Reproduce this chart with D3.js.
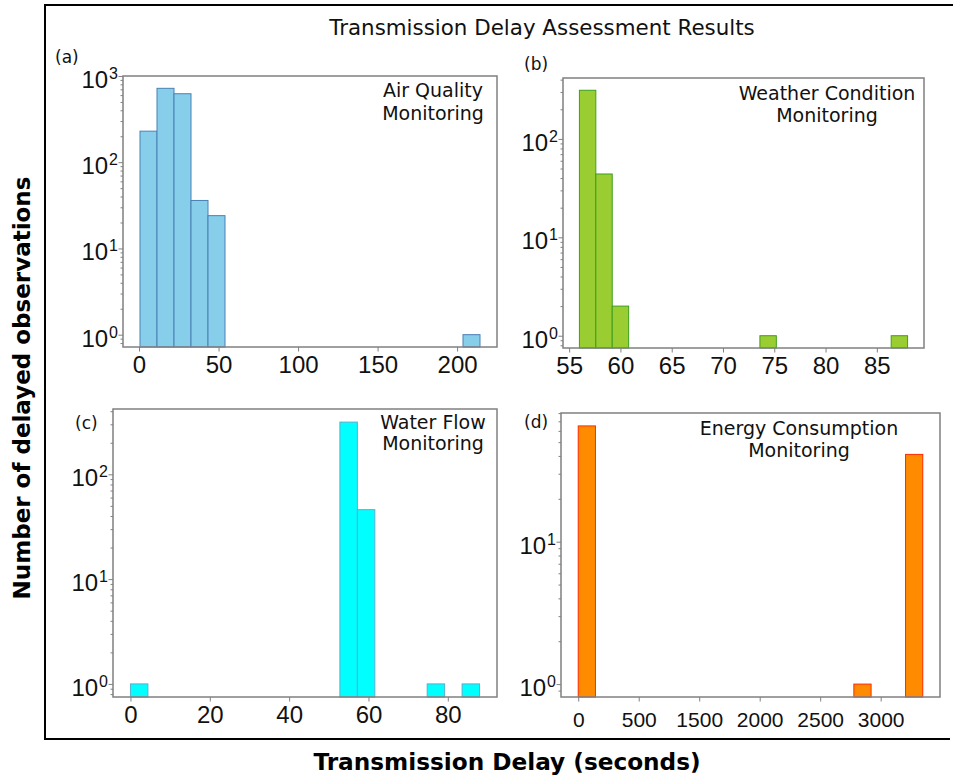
<!DOCTYPE html>
<html><head><meta charset="utf-8">
<script src="https://cdn.jsdelivr.net/npm/d3@7/dist/d3.min.js"></script>
<style>body{margin:0;background:#fff}svg{display:block;font-family:"DejaVu Sans",sans-serif}</style>
</head><body><svg id="chart" width="953" height="777"></svg>
<script>
// ---- data ----
const titleText = "Transmission Delay Assessment Results";
const xLabel = "Transmission Delay (seconds)";
const yLabel = "Number of delayed observations";

const panelIds = ["(a)", "(b)", "(c)", "(d)"];
const panelNames = [["Air Quality", "Monitoring"], ["Weather Condition", "Monitoring"], ["Water Flow", "Monitoring"], ["Energy Consumption", "Monitoring"]];

// histogram bins: first edge, width, counts (20 bins each)
const airStart = 0.6, airWidth = 10.69;
const airCounts = [229, 719, 622, 36, 24, 0, 0, 0, 0, 0, 0, 0, 0, 0, 0, 0, 0, 0, 0, 1];
const weatherStart = 56.0, weatherWidth = 1.6;
const weatherCounts = [312, 44, 2, 0, 0, 0, 0, 0, 0, 0, 0, 1, 0, 0, 0, 0, 0, 0, 0, 1];
const waterStart = 0, waterWidth = 4.4;
const waterCounts = [1, 0, 0, 0, 0, 0, 0, 0, 0, 0, 0, 0, 315, 46, 0, 0, 0, 1, 0, 1];
const energyStart = 0, energyWidth = 142.4;
const energyCounts = [65, 0, 0, 0, 0, 0, 0, 0, 0, 0, 0, 0, 0, 0, 0, 0, 1, 0, 0, 41];

const airXTicks = [0, 50, 100, 150, 200];
const weatherXTicks = [55, 60, 65, 70, 75, 80, 85];
const waterXTicks = [0, 20, 40, 60, 80];
const energyXTicks = [0, 500, 1000, 1500, 2000, 2500];
const energyXTickLabels = ["0", "500", "1500", "2000", "2500", "3000"];
const airYExps = [0, 1, 2, 3];
const weatherYExps = [0, 1, 2];
const waterYExps = [0, 1, 2];
const energyYExps = [0, 1];

// ---- layout / style ----
const panels = [
  {start: airStart, width: airWidth, counts: airCounts, xt: airXTicks, xl: null, ye: airYExps,
   box: [123, 497, 76, 347], fill: "#87CEEB", stroke: "#4a80b4", xfs: 24, xoff: 26,
   id: [55, 63], name: [433, 97, 120]},
  {start: weatherStart, width: weatherWidth, counts: weatherCounts, xt: weatherXTicks, xl: null, ye: weatherYExps,
   box: [563, 924, 78, 348], fill: "#9ACD32", stroke: "#3e9e1c", xfs: 24, xoff: 26,
   id: [524, 70], name: [827, 100, 121.5]},
  {start: waterStart, width: waterWidth, counts: waterCounts, xt: waterXTicks, xl: null, ye: waterYExps,
   box: [113, 497, 409, 697], fill: "#00FFFF", stroke: "#5aaed0", xfs: 24, xoff: 26,
   id: [75, 429], name: [433, 429, 450]},
  {start: energyStart, width: energyWidth, counts: energyCounts, xt: energyXTicks, xl: energyXTickLabels, ye: energyYExps,
   box: [561, 940, 413, 697], fill: "#FF8C00", stroke: "#ff2a00", xfs: 21, xoff: 29.5,
   id: [524, 428], name: [799, 435, 456.5]}
];

const svg = d3.select("#chart");
const spine = "#808080";

// outer frame
svg.append("path").attr("d", "M953,5 H45 V739 H950").attr("fill", "none").attr("stroke", "#000").attr("stroke-width", 2);

svg.append("text").attr("x", 542).attr("y", 35).attr("text-anchor", "middle")
  .attr("font-size", 21.4).attr("fill", "#111").text(titleText);
svg.append("text").attr("x", 507).attr("y", 770).attr("text-anchor", "middle")
  .attr("font-size", 23.2).attr("font-weight", "bold").attr("fill", "#000").text(xLabel);
svg.append("text").attr("transform", "translate(30,388) rotate(-90)").attr("text-anchor", "middle")
  .attr("font-size", 23).attr("font-weight", "bold").attr("fill", "#000").text(yLabel);

panels.forEach((p, i) => {
  const [x0, x1, y0, y1] = p.box;
  const n = p.counts.length;
  const lo = p.start, hi = p.start + n * p.width;
  const mx = 0.05 * (hi - lo);
  const x = d3.scaleLinear().domain([lo - mx, hi + mx]).range([x0, x1]);
  const lmax = Math.log10(d3.max(p.counts));
  const ly = 0.05 * lmax;
  const y = d3.scaleLog().domain([Math.pow(10, -ly), Math.pow(10, lmax + ly)]).range([y1, y0]);
  const g = svg.append("g");

  const bins = p.counts.map((c, k) => ({x0: p.start + k * p.width, x1: p.start + (k + 1) * p.width, c})).filter(d => d.c > 0);
  g.selectAll("rect").data(bins).join("rect")
    .attr("x", d => x(d.x0)).attr("width", d => x(d.x1) - x(d.x0))
    .attr("y", d => y(d.c)).attr("height", d => y1 - y(d.c))
    .attr("fill", p.fill).attr("stroke", p.stroke).attr("stroke-width", 1);

  // x axis
  const xa = d3.axisBottom(x).tickValues(p.xt).tickSize(4.5).tickPadding(3)
    .tickFormat((d, k) => p.xl ? p.xl[k] : String(d));
  const gx = g.append("g").attr("transform", `translate(0,${y1})`).call(xa);
  gx.select(".domain").remove();
  gx.selectAll("line").attr("stroke", spine);
  gx.selectAll("text").remove();
  gx.selectAll(".tick").append("text").attr("y", p.xoff).attr("text-anchor", "middle")
    .attr("font-size", p.xfs).attr("fill", "#111")
    .text((d, k) => p.xl ? p.xl[k] : String(d));

  // y axis: minor + major ticks
  const [dlo, dhi] = y.domain();
  const minors = [];
  for (let e = Math.floor(Math.log10(dlo)); e <= Math.ceil(Math.log10(dhi)); e++)
    for (let m = 2; m <= 9; m++) { const v = m * Math.pow(10, e); if (v >= dlo && v <= dhi) minors.push(v); }
  const ya = d3.axisLeft(y).tickValues(minors).tickSize(2.5).tickFormat("");
  const gy = g.append("g").attr("transform", `translate(${x0},0)`).call(ya);
  gy.select(".domain").remove();
  gy.selectAll("line").attr("stroke", spine);
  const yb = d3.axisLeft(y).tickValues(p.ye.map(e => Math.pow(10, e))).tickSize(4.5).tickFormat("");
  const gy2 = g.append("g").attr("transform", `translate(${x0},0)`).call(yb);
  gy2.select(".domain").remove();
  gy2.selectAll("line").attr("stroke", spine);
  gy2.selectAll(".tick").each(function(d, k) {
    const t = d3.select(this).append("text").attr("x", -5).attr("y", 11.5).attr("text-anchor", "end")
      .attr("font-size", 24).attr("fill", "#111");
    t.append("tspan").text("10");
    t.append("tspan").attr("font-size", 16).attr("dy", -9).attr("dx", 1).text(String(p.ye[k]));
  });

  // frame
  g.append("rect").attr("x", x0).attr("y", y0).attr("width", x1 - x0).attr("height", y1 - y0)
    .attr("fill", "none").attr("stroke", spine).attr("stroke-width", 1.5);

  svg.append("text").attr("x", p.id[0]).attr("y", p.id[1]).attr("font-size", 17).attr("fill", "#111").text(panelIds[i]);
  svg.append("text").attr("x", p.name[0]).attr("y", p.name[1]).attr("text-anchor", "middle").attr("font-size", 19).attr("fill", "#111").text(panelNames[i][0]);
  svg.append("text").attr("x", p.name[0]).attr("y", p.name[2]).attr("text-anchor", "middle").attr("font-size", 19).attr("fill", "#111").text(panelNames[i][1]);
});
</script></body></html>
